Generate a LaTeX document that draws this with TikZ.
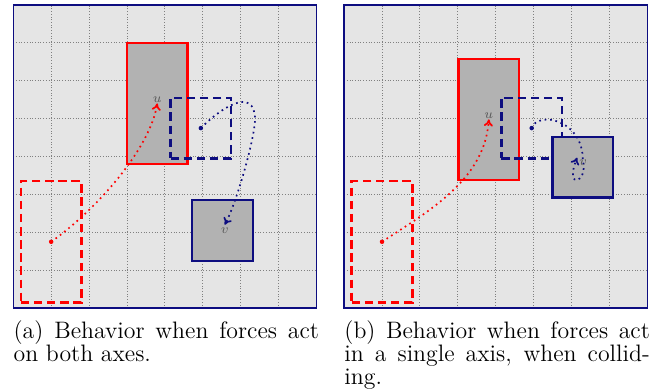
\documentclass[tikz,border=0pt]{standalone}
\usepackage{xcolor}
\usepackage{tikz}
\usetikzlibrary{positioning, arrows.meta}
\definecolor{navy}{rgb}{0.05,0.05,0.5}

\begin{document}
\begin{tikzpicture}[
        x=0.711cm, y=0.711cm,
        frame/.style     ={draw=navy, line width=0.7pt},
        gridln/.style    ={gray, densely dotted, line width=0.45pt, step=0.711cm},
        redbody/.style   ={draw=red, fill=gray!60, line width=1.3pt, inner sep=0pt,
                           minimum width=11.38mm, minimum height=22.75mm},
        redghost/.style  ={redbody, fill=none, dash pattern=on 4.5pt off 2.5pt},
        bluebody/.style  ={draw=navy, fill=gray!60, line width=1.3pt, inner sep=0pt,
                           minimum size=11.38mm},
        blueghost/.style ={bluebody, fill=none, dash pattern=on 4.5pt off 2.5pt},
        dot/.style       ={circle, inner sep=0pt, minimum size=2.4pt},
        redpath/.style   ={red, dotted, line width=0.9pt, -{To[length=1.3mm, width=1.7mm]}},
        bluepath/.style  ={navy, dotted, line width=0.9pt, -{To[length=1.3mm, width=1.7mm]}},
        lbl/.style       ={font=\scriptsize, text=black!65, inner sep=0.5pt},
        capt/.style      ={font=\fontsize{12.7}{12.3}\selectfont, text width=163pt,
                           align=justify, anchor=north west, inner sep=0pt}
    ]
      \useasboundingbox (-0.35,-2.16) rectangle (16.96,8.13);

      % ===== PANEL (a) =====
      \fill[gray!20] (0,0) rectangle (8,8);
      \draw[gridln] (0,0) grid (8,8);
      \draw[frame]  (0,0) rectangle (8,8);
      \node[redghost]  (ra0) at (1.0,1.75)  {};
      \node[redbody]   (ra1) at (3.8,5.4)   {};
      \node[blueghost] (ba0) at (4.95,4.75) {};
      \node[bluebody]  (ba1) at (5.52,2.05) {};
      \node[dot, fill=red]  (rda) at (ra0.center) {};
      \node[dot, fill=navy] (bda) at (ba0.center) {};
      \coordinate (vta) at (5.58,2.2);
      \draw[redpath]  (rda.center) .. controls (2.2,2.6) and (3.6,4.2) .. (ra1.center);
      \draw[bluepath] (bda.center) .. controls (5.5,5.3) and (6.35,5.85) .. (6.38,5.0)
                                   .. controls (6.38,4.5) and (5.9,2.8) .. (vta);
      \node[lbl, above=0pt of ra1.center] (ua) {$u$};
      \node[lbl, below=1pt of vta]        (va) {$v$};
      \node[capt] (capa) at (0,-0.33) {(a) Behavior when forces act\linebreak on both axes.};

      % ===== PANEL (b) =====
      \begin{scope}[xshift=6.207cm]
      \fill[gray!20] (0,0) rectangle (8,8);
      \draw[gridln] (0,0) grid (8,8);
      \draw[frame]  (0,0) rectangle (8,8);
      \node[redghost]  (rb0) at (1.0,1.75)  {};
      \node[redbody]   (rb1) at (3.82,4.98) {};
      \node[blueghost] (bb0) at (4.95,4.75) {};
      \node[bluebody]  (bb1) at (6.3,3.72)  {};
      \node[dot, fill=red]  (rdb) at (rb0.center) {};
      \node[dot, fill=navy] (bdb) at (bb0.center) {};
      \coordinate (vtb) at (6.15,3.97);
      \draw[redpath]  (rdb.center) .. controls (2.3,2.6) and (3.7,3.4) .. (rb1.center);
      \draw[bluepath] (bdb.center) .. controls (5.1,5.2) and (6.3,5.0) .. (6.3,3.9)
                                   .. controls (6.45,3.3) and (5.8,3.1) .. (vtb);
      \node[lbl, above=0pt of rb1.center] (ub) {$u$};
      \node[lbl, below right=0.5pt of vtb] (vb) {$v$};
      \node[capt] (capb) at (0,-0.33) {(b) Behavior when forces act\linebreak in a single axis, when collid-\linebreak ing.};
      \end{scope}
\end{tikzpicture}
\end{document}
